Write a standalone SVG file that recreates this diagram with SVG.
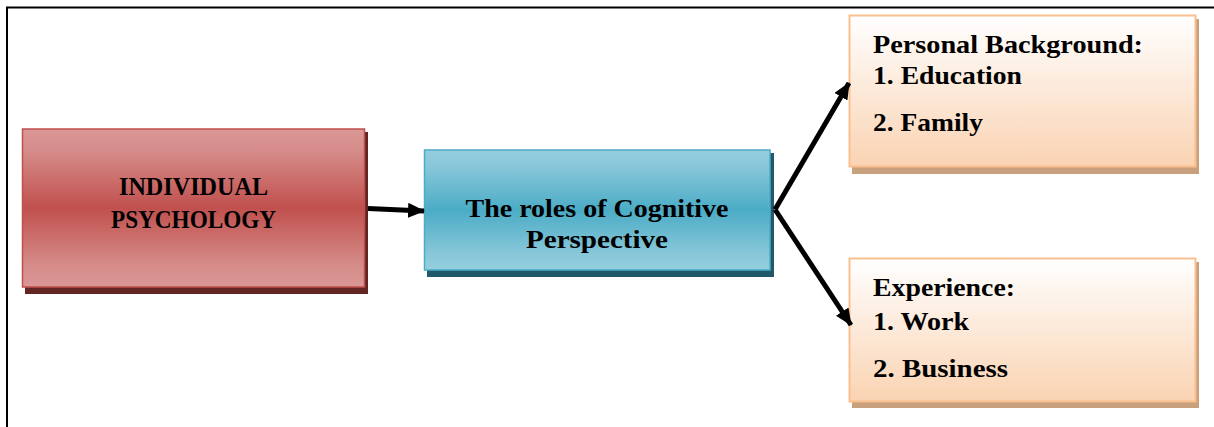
<svg xmlns="http://www.w3.org/2000/svg" width="1214" height="427" viewBox="0 0 1214 427">
<defs>
<linearGradient id="gRed" x1="0" y1="0" x2="0" y2="1">
<stop offset="0" stop-color="#da9896"/>
<stop offset="0.15" stop-color="#d58a88"/>
<stop offset="0.5" stop-color="#c0504d"/>
<stop offset="0.85" stop-color="#d58a88"/>
<stop offset="1" stop-color="#da9896"/>
</linearGradient>
<linearGradient id="gBlue" x1="0" y1="0" x2="0" y2="1">
<stop offset="0" stop-color="#95cfde"/>
<stop offset="0.15" stop-color="#86c6d8"/>
<stop offset="0.5" stop-color="#4bacc6"/>
<stop offset="0.85" stop-color="#86c6d8"/>
<stop offset="1" stop-color="#95cfde"/>
</linearGradient>
<linearGradient id="gOrange" x1="0" y1="0" x2="0" y2="1">
<stop offset="0" stop-color="#ffffff"/>
<stop offset="1" stop-color="#fad3b2"/>
</linearGradient>
<marker id="arrow" markerUnits="userSpaceOnUse" markerWidth="17" markerHeight="15" refX="16" refY="7.5" orient="auto">
<path d="M0,0 L17,7.5 L0,15 Z" fill="#000"/>
</marker>
<style>
.t{font-family:"Liberation Serif","Times New Roman",serif;font-weight:bold;font-size:26px;fill:#000}
.c{text-anchor:middle}
.conn{stroke:#000;stroke-width:5;fill:none}
</style>
</defs>
<rect width="1214" height="427" fill="#fff"/>
<g id="frame" stroke="#000" stroke-width="2" fill="none">
<path d="M7,427 L7,7.5 L1214,7.5"/>
</g>
<g id="node-individual">
<rect x="25" y="132" width="343" height="162" fill="#632523"/>
<rect x="22.5" y="129" width="342" height="158" fill="url(#gRed)" stroke="#c0504d" stroke-width="1.5"/>
<text class="t c" x="193.5" y="195" textLength="149" lengthAdjust="spacingAndGlyphs">INDIVIDUAL</text>
<text class="t c" x="193.5" y="228" textLength="165" lengthAdjust="spacingAndGlyphs">PSYCHOLOGY</text>
</g>
<g id="node-cognitive">
<rect x="427" y="153" width="347" height="124" fill="#215968"/>
<rect x="424.5" y="150" width="345.5" height="120" fill="url(#gBlue)" stroke="#4bacc6" stroke-width="1.5"/>
<text class="t c" x="597" y="217" textLength="263" lengthAdjust="spacingAndGlyphs">The roles of Cognitive</text>
<text class="t c" x="597" y="248" textLength="142" lengthAdjust="spacingAndGlyphs">Perspective</text>
</g>
<g id="node-background">
<rect x="852" y="19" width="347" height="155" fill="#c9a07e"/>
<rect x="849.5" y="15.5" width="346" height="151" fill="url(#gOrange)" stroke="#fabf8f" stroke-width="2"/>
<text class="t" x="873" y="53" textLength="270" lengthAdjust="spacingAndGlyphs">Personal Background:</text>
<text class="t" x="873" y="84" textLength="149" lengthAdjust="spacingAndGlyphs">1. Education</text>
<text class="t" x="873" y="131" textLength="110" lengthAdjust="spacingAndGlyphs">2. Family</text>
</g>
<g id="node-experience">
<rect x="852" y="262" width="347" height="146" fill="#c9a07e"/>
<rect x="849.5" y="258.5" width="346" height="143" fill="url(#gOrange)" stroke="#fabf8f" stroke-width="2"/>
<text class="t" x="873" y="296" textLength="142" lengthAdjust="spacingAndGlyphs">Experience:</text>
<text class="t" x="873" y="330" textLength="96" lengthAdjust="spacingAndGlyphs">1. Work</text>
<text class="t" x="873" y="377" textLength="135" lengthAdjust="spacingAndGlyphs">2. Business</text>
</g>
<g id="connectors">
<path class="conn" d="M368,208.5 L424,211" marker-end="url(#arrow)"/>
<path class="conn" d="M775,209.5 L849,83" marker-end="url(#arrow)"/>
<path class="conn" d="M775,209.5 L851,325" marker-end="url(#arrow)"/>
</g>
</svg>
